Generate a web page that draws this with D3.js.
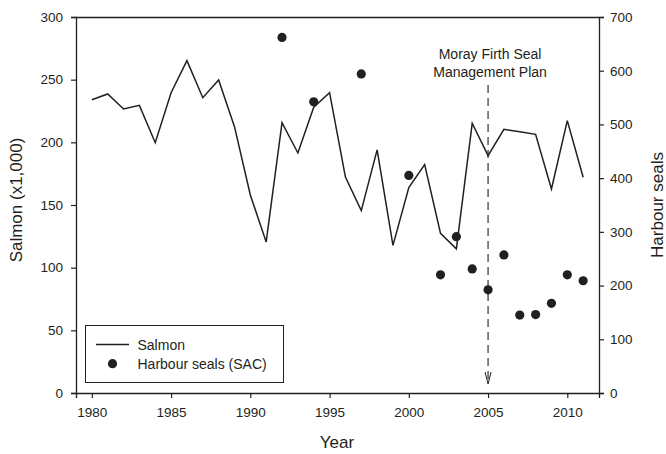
<!DOCTYPE html>
<html><head><meta charset="utf-8">
<script src="https://cdn.jsdelivr.net/npm/d3@7"></script>
<style>body{margin:0;background:#fff}svg{display:block;font-family:"Liberation Sans",Arial,sans-serif}</style>
</head><body><svg id="c" width="666" height="454"></svg>
<script>
const salmonYears = [1980,1981,1982,1983,1984,1985,1986,1987,1988,1989,1990,1991,1992,1993,1994,1995,1996,1997,1998,1999,2000,2001,2002,2003,2004,2005,2006,2007,2008,2009,2010,2011];
const salmonValues = [234,238.6,226.6,229.5,199.7,239.6,265.2,235.6,249.7,212.5,158,120.5,215.7,191.5,228,239.6,172.3,145.5,194,117.8,164,182.2,127.4,115,215.2,189.4,210.4,208.4,206.4,162.8,217.3,172.1];
const sealYears = [1992,1994,1997,2000,2002,2003,2004,2005,2006,2007,2008,2009,2010,2011];
const sealValues = [662,542,594,405,220,291,231,192,257,145,146,167,220,209];
const xTicks = [1980,1985,1990,1995,2000,2005,2010];
const yLeftTicks = [0,50,100,150,200,250,300];
const yRightTicks = [0,100,200,300,400,500,600,700];
const planYear = 2005;

const ink = "#231f20";
const svg = d3.select("#c");
const L = 76, R = 599, T = 17, B = 393;
const x = d3.scaleLinear().domain([1979, 2012]).range([L, R]);
const yL = d3.scaleLinear().domain([0, 300]).range([B, T]);
const yR = d3.scaleLinear().domain([0, 700]).range([B, T]);

// top border
svg.append("line").attr("x1", L).attr("x2", R).attr("y1", T + 0.5).attr("y2", T + 0.5).attr("stroke", ink).attr("stroke-width", 1.3);

function styleAxis(g) {
  g.selectAll("path.domain").attr("stroke", ink).attr("stroke-width", 1.3);
  g.selectAll(".tick line").attr("stroke", ink).attr("stroke-width", 1.2);
  g.selectAll(".tick text").attr("fill", ink).attr("font-size", 13.5).attr("font-family", "Liberation Sans, Arial, sans-serif");
}
svg.append("g").attr("transform", `translate(0,${B})`)
  .call(d3.axisBottom(x).tickValues(xTicks).tickFormat(d3.format("d")).tickSizeOuter(0).tickSize(5).tickPadding(9))
  .call(styleAxis);
svg.append("g").attr("transform", `translate(${L},0)`)
  .call(d3.axisLeft(yL).tickValues(yLeftTicks).tickSizeOuter(0).tickSize(5).tickPadding(8))
  .call(styleAxis);
svg.append("g").attr("transform", `translate(${R},0)`)
  .call(d3.axisRight(yR).tickValues(yRightTicks).tickSizeOuter(0).tickSize(5).tickPadding(6))
  .call(styleAxis);

// salmon line
const line = d3.line().x((d, i) => x(salmonYears[i])).y(d => yL(d));
svg.append("path").datum(salmonValues).attr("d", line).attr("fill", "none").attr("stroke", ink).attr("stroke-width", 1.5).attr("stroke-linejoin", "miter");

// seals
svg.append("g").selectAll("circle").data(sealValues).join("circle")
  .attr("cx", (d, i) => x(sealYears[i])).attr("cy", d => yR(d)).attr("r", 4.6).attr("fill", ink);

// plan annotation
const px = x(planYear);
svg.append("line").attr("x1", px).attr("x2", px).attr("y1", 85).attr("y2", 383)
  .attr("stroke", ink).attr("stroke-width", 1.1).attr("stroke-dasharray", "8,5");
svg.append("path").attr("d", `M${px - 3},${372} L${px},${384} L${px + 3},${372}`).attr("fill", "none").attr("stroke", ink).attr("stroke-width", 1);
const ann = svg.append("text").attr("text-anchor", "middle").attr("fill", ink).attr("font-size", 14);
ann.append("tspan").attr("x", px + 2).attr("y", 59).text("Moray Firth Seal");
ann.append("tspan").attr("x", px + 2).attr("y", 77).text("Management Plan");

// axis titles
svg.append("text").attr("x", 337).attr("y", 448).attr("text-anchor", "middle").attr("font-size", 17).attr("fill", ink).text("Year");
svg.append("text").attr("transform", "translate(22,200) rotate(-90)").attr("text-anchor", "middle").attr("font-size", 17).attr("fill", ink).text("Salmon (x1,000)");
svg.append("text").attr("transform", "translate(663,205) rotate(-90)").attr("text-anchor", "middle").attr("font-size", 17).attr("fill", ink).text("Harbour seals");

// legend
const lg = svg.append("g");
lg.append("rect").attr("x", 85.5).attr("y", 325.5).attr("width", 198).attr("height", 57).attr("fill", "#fff").attr("stroke", ink).attr("stroke-width", 1);
lg.append("line").attr("x1", 96).attr("x2", 129).attr("y1", 344.5).attr("y2", 344.5).attr("stroke", ink).attr("stroke-width", 1.5);
lg.append("circle").attr("cx", 112.5).attr("cy", 363.7).attr("r", 4.6).attr("fill", ink);
lg.append("text").attr("x", 137.5).attr("y", 349.5).attr("font-size", 14).attr("fill", ink).text("Salmon");
lg.append("text").attr("x", 137.5).attr("y", 368.5).attr("font-size", 14).attr("fill", ink).text("Harbour seals (SAC)");
</script></body></html>
